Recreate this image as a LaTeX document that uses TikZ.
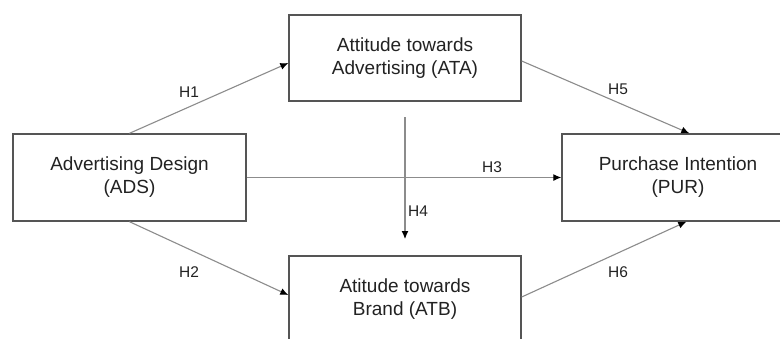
\documentclass[tikz,border=0pt]{standalone}
\usepackage{fontspec}
\setmainfont{Liberation Sans}
\usetikzlibrary{arrows.meta,calc}
\definecolor{boxline}{HTML}{555555}
\definecolor{conline}{HTML}{8C8C8C}
\definecolor{txt}{HTML}{222222}
\tikzset{
  varbox/.style={draw=boxline, line width=1.4pt, fill=white, minimum width=232pt, minimum height=86pt,
    align=center, inner sep=0pt, text=txt, font=\fontsize{19}{23}\selectfont},
  link/.style={draw=conline, line width=1.1pt, -{Latex[length=8pt,width=7pt,color=black]}},
  hlab/.style={text=txt, font=\fontsize{15.5}{18}\selectfont, inner sep=0pt}
}
\begin{document}
\begin{tikzpicture}[x=1pt,y=-1pt]
\useasboundingbox (0,0) rectangle (780,338);
\clip (0,0) rectangle (780,338);
\fill[white] (0,0) rectangle (780,338);
\node[varbox, minimum width=233pt, minimum height=87pt] (ADS) at (129.5,177.5) {Advertising Design\\(ADS)};
\node[varbox] (ATA) at (405,58) {Attitude towards\\Advertising (ATA)};
\node[varbox] (ATB) at (405,299) {Atitude towards\\Brand (ATB)};
\node[varbox, minimum height=87pt] (PUR) at (678,177.5) {Purchase Intention\\(PUR)};
\coordinate (h4s) at (405,117);
\coordinate (h4e) at (405,239);
\draw[link] (ADS.north) -- ($(ATA.west)+(0,5)$);
\draw[link] (ADS.south) -- ($(ATB.west)+(0,-4)$);
\draw[link] (ADS.east) -- (PUR.west);
\draw[link] (h4s) -- (h4e);
\draw[link] ($(ATA.east)+(0,3)$) -- ($(PUR.north west)+(128,0)$);
\draw[link] ($(ATB.east)+(0,-2)$) -- ($(PUR.south west)+(125,0)$);
\node[hlab] (l1) at (189,92) {H1};
\node[hlab] (l2) at (189,272) {H2};
\node[hlab] (l3) at (492,167) {H3};
\node[hlab] (l4) at (418,211) {H4};
\node[hlab] (l5) at (618,89) {H5};
\node[hlab] (l6) at (618,272) {H6};
\end{tikzpicture}
\end{document}
